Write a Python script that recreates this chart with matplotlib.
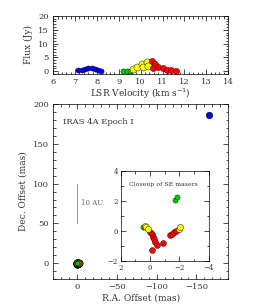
import numpy as np
import matplotlib
matplotlib.use('Agg')
import matplotlib.pyplot as plt
from matplotlib.ticker import MultipleLocator

plt.rcParams['font.family'] = 'DejaVu Serif'
plt.rcParams['font.size'] = 6
plt.rcParams['text.color'] = '0.2'
plt.rcParams['axes.labelcolor'] = '0.2'
plt.rcParams['xtick.labelcolor'] = '0.2'
plt.rcParams['ytick.labelcolor'] = '0.2'

# ---------------- spectrum (top panel) ----------------
vel_blue = [7.15, 7.3, 7.45, 7.6, 7.75, 7.9, 8.05, 8.2]
flux_blue = [0.3, 0.6, 0.9, 1.1, 1.0, 0.8, 0.5, 0.2]
vel_green = [9.2, 9.35, 9.5]
flux_green = [0.1, 0.1, 0.2]
vel_yellow = [9.66, 9.84, 10.04, 10.12, 10.27, 10.35]
flux_yellow = [0.7, 1.6, 2.6, 1.6, 3.4, 2.0]
vel_red = [10.5, 10.57, 10.65, 10.8, 11.0, 11.18, 11.37, 11.6]
flux_red = [3.7, 1.3, 2.6, 1.6, 1.0, 0.6, 0.3, 0.1]

# ---------------- maser positions (mas) ----------------
ra_blue = [-166]
dec_blue = [186.6]
ra_green = [-1.69, -1.81, 0.46]
dec_green = [2.07, 2.25, 0.29]
ra_yellow = [0.35, 0.25, 0.15, -1.97, -2.04]
dec_yellow = [0.35, 0.25, 0.1, 0.11, 0.25]
ra_red = [0.0, -0.1, -0.22, -0.3, -0.33, -0.45, -0.86, -0.11,
          -1.35, -1.5, -1.65, -1.76]
dec_red = [-0.05, -0.2, -0.38, -0.55, -0.71, -0.93, -0.82, -1.27,
           -0.27, -0.18, -0.05, 0.02]

kol = {'b': '#0000ff', 'g': '#00d000', 'y': '#ffff00', 'r': '#ff0000'}


def tengely(ax):
    ax.tick_params(which='both', direction='in', top=True, right=True,
                   labelsize=6, pad=3)
    ax.tick_params(which='major', length=3.5, width=0.5)
    ax.tick_params(which='minor', length=1.8, width=0.5)
    for s in ax.spines.values():
        s.set_linewidth(0.5)


fig = plt.figure(figsize=(2.73, 3.07), dpi=100)

# top panel
ax1 = fig.add_axes([0.195, 0.759, 0.641, 0.189])
ax1.scatter(vel_blue, flux_blue, s=14, c=kol['b'], edgecolors='k', linewidths=0.3, zorder=3)
ax1.scatter(vel_green, flux_green, s=14, c=kol['g'], edgecolors='k', linewidths=0.3, zorder=3)
ax1.scatter(vel_yellow, flux_yellow, s=26, c=kol['y'], edgecolors='k', linewidths=0.3, zorder=3)
ax1.scatter(vel_red, flux_red, s=20, c=kol['r'], edgecolors='k', linewidths=0.3, zorder=4)
ax1.set_xlim(6, 14)
ax1.set_ylim(-1, 20)
ax1.xaxis.set_major_locator(MultipleLocator(1))
ax1.xaxis.set_minor_locator(MultipleLocator(0.2))
ax1.yaxis.set_major_locator(MultipleLocator(5))
ax1.yaxis.set_minor_locator(MultipleLocator(1))
ax1.set_xlabel('LSR Velocity (km s$^{-1}$)', fontsize=6.5, labelpad=0)
ax1.set_ylabel('Flux (Jy)', fontsize=6.5, labelpad=4)
tengely(ax1)

# bottom panel
ax2 = fig.add_axes([0.195, 0.091, 0.641, 0.570])
ax2.scatter(ra_blue, dec_blue, s=22, c=kol['b'], edgecolors='k', linewidths=0.4, zorder=3)
ax2.scatter(ra_red, dec_red, s=26, c='#302a00', edgecolors='k', linewidths=0.4, zorder=3)
ax2.scatter(ra_yellow, dec_yellow, s=26, c='#605800', edgecolors='k', linewidths=0.4, zorder=3)
ax2.scatter(ra_green[2:], dec_green[2:], s=10, c=kol['g'], edgecolors='k', linewidths=0.3, zorder=4)
ax2.plot([0, 0], [50, 100], color='0.5', lw=0.6)
ax2.text(-5, 75, '10 AU', fontsize=5, color='0.4', va='center', ha='left')
ax2.text(18, 178, 'IRAS 4A Epoch I', fontsize=6, va='center', ha='left')
ax2.set_xlim(30, -190)
ax2.set_ylim(-20, 200)
ax2.xaxis.set_major_locator(MultipleLocator(50))
ax2.xaxis.set_minor_locator(MultipleLocator(10))
ax2.yaxis.set_major_locator(MultipleLocator(50))
ax2.yaxis.set_minor_locator(MultipleLocator(10))
ax2.set_xlabel('R.A. Offset (mas)', fontsize=6.5, labelpad=2)
ax2.set_ylabel('Dec. Offset (mas)', fontsize=6.5, labelpad=4)
tengely(ax2)

# inset
ax3 = fig.add_axes([0.442, 0.150, 0.323, 0.293])
ax3.scatter(ra_green, dec_green, s=14, c=kol['g'], edgecolors='k', linewidths=0.3, zorder=3)
ax3.scatter(ra_red, dec_red, s=18, c=kol['r'], edgecolors='k', linewidths=0.3, zorder=3)
ax3.scatter(ra_yellow, dec_yellow, s=20, c=kol['y'], edgecolors='k', linewidths=0.3, zorder=4)
ax3.set_xlim(2, -4)
ax3.set_ylim(-2, 4)
ax3.xaxis.set_major_locator(MultipleLocator(2))
ax3.xaxis.set_minor_locator(MultipleLocator(1))
ax3.yaxis.set_major_locator(MultipleLocator(2))
ax3.yaxis.set_minor_locator(MultipleLocator(1))
ax3.text(1.4, 3.1, 'Closeup of SE masers', fontsize=4.5, va='center', ha='left')
tengely(ax3)
ax3.tick_params(labelsize=5, pad=2)

fig.savefig('out.png', dpi=100)
